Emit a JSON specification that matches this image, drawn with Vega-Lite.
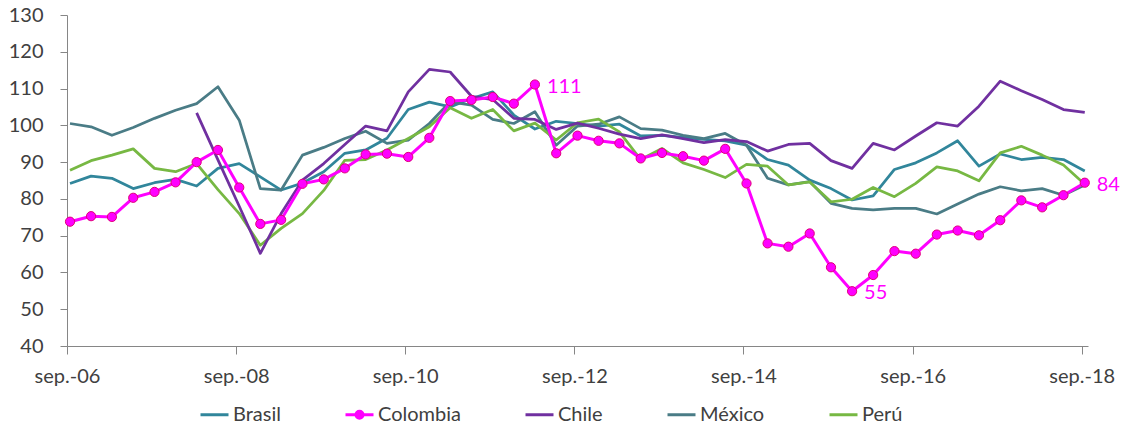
{
  "$schema": "https://vega.github.io/schema/vega-lite/v6.json",
  "width": 1021,
  "height": 331,
  "autosize": {"type": "none"},
  "padding": {"left": 67, "top": 15, "right": 39, "bottom": 82},
  "background": "white",
  "config": {
    "view": {"stroke": null},
    "font": "Lato",
    "axis": {
      "labelFont": "Lato",
      "labelFontSize": 20,
      "labelColor": "#404040",
      "domainColor": "#868686",
      "tickColor": "#868686",
      "domainWidth": 1,
      "tickWidth": 1,
      "grid": false,
      "title": null
    },
    "axisY": {"tickSize": 7, "labelPadding": 17, "labelOverlap": false}
  },
  "data": {
    "values": [
      {"fecha": "2006-09-14", "Brasil": 84.2, "Colombia": 73.8, "Chile": null, "México": 100.5, "Perú": 87.8},
      {"fecha": "2006-12-14", "Brasil": 86.2, "Colombia": 75.3, "Chile": null, "México": 99.6, "Perú": 90.4},
      {"fecha": "2007-03-14", "Brasil": 85.6, "Colombia": 75.1, "Chile": null, "México": 97.3, "Perú": 91.9},
      {"fecha": "2007-06-14", "Brasil": 82.8, "Colombia": 80.3, "Chile": null, "México": 99.4, "Perú": 93.6},
      {"fecha": "2007-09-14", "Brasil": 84.4, "Colombia": 81.9, "Chile": null, "México": 101.9, "Perú": 88.3},
      {"fecha": "2007-12-14", "Brasil": 85.3, "Colombia": 84.5, "Chile": null, "México": 104.1, "Perú": 87.4},
      {"fecha": "2008-03-14", "Brasil": 83.5, "Colombia": 90.0, "Chile": 103.4, "México": 105.9, "Perú": 89.6},
      {"fecha": "2008-06-14", "Brasil": 88.3, "Colombia": 93.3, "Chile": 90.6, "México": 110.5, "Perú": 82.5},
      {"fecha": "2008-09-14", "Brasil": 89.6, "Colombia": 83.1, "Chile": 78.0, "México": 101.4, "Perú": 76.0},
      {"fecha": "2008-12-14", "Brasil": 86.0, "Colombia": 73.2, "Chile": 65.2, "México": 82.8, "Perú": 67.4},
      {"fecha": "2009-03-14", "Brasil": 82.4, "Colombia": 74.3, "Chile": 76.0, "México": 82.4, "Perú": 72.0},
      {"fecha": "2009-06-14", "Brasil": 84.3, "Colombia": 84.1, "Chile": 85.1, "México": 91.9, "Perú": 76.0},
      {"fecha": "2009-09-14", "Brasil": 87.4, "Colombia": 85.3, "Chile": 89.6, "México": 94.0, "Perú": 82.3},
      {"fecha": "2009-12-14", "Brasil": 92.4, "Colombia": 88.3, "Chile": 94.8, "México": 96.4, "Perú": 90.5},
      {"fecha": "2010-03-14", "Brasil": 93.3, "Colombia": 92.1, "Chile": 99.8, "México": 98.4, "Perú": 90.7},
      {"fecha": "2010-06-14", "Brasil": 96.5, "Colombia": 92.3, "Chile": 98.5, "México": 95.1, "Perú": 93.3},
      {"fecha": "2010-09-14", "Brasil": 104.3, "Colombia": 91.4, "Chile": 109.1, "México": 96.0, "Perú": 96.4},
      {"fecha": "2010-12-14", "Brasil": 106.3, "Colombia": 96.6, "Chile": 115.2, "México": 100.5, "Perú": 99.6},
      {"fecha": "2011-03-14", "Brasil": 105.0, "Colombia": 106.6, "Chile": 114.5, "México": 106.4, "Perú": 104.8},
      {"fecha": "2011-06-14", "Brasil": 107.3, "Colombia": 106.9, "Chile": 107.9, "México": 105.5, "Perú": 101.9},
      {"fecha": "2011-09-14", "Brasil": 109.1, "Colombia": 107.7, "Chile": 107.0, "México": 101.6, "Perú": 104.3},
      {"fecha": "2011-12-14", "Brasil": 102.8, "Colombia": 105.9, "Chile": 101.9, "México": 100.5, "Perú": 98.5},
      {"fecha": "2012-03-14", "Brasil": 99.0, "Colombia": 111.1, "Chile": 101.6, "México": 103.7, "Perú": 100.6, "etiqueta": true},
      {"fecha": "2012-06-14", "Brasil": 101.1, "Colombia": 92.4, "Chile": 98.9, "México": 94.6, "Perú": 96.0},
      {"fecha": "2012-09-14", "Brasil": 100.5, "Colombia": 97.2, "Chile": 100.6, "México": 99.8, "Perú": 100.7},
      {"fecha": "2012-12-14", "Brasil": 99.8, "Colombia": 95.8, "Chile": 99.2, "México": 100.3, "Perú": 101.7},
      {"fecha": "2013-03-14", "Brasil": 100.3, "Colombia": 95.1, "Chile": 97.6, "México": 102.3, "Perú": 98.2},
      {"fecha": "2013-06-14", "Brasil": 97.1, "Colombia": 91.0, "Chile": 96.4, "México": 99.1, "Perú": 90.7},
      {"fecha": "2013-09-14", "Brasil": 97.3, "Colombia": 92.5, "Chile": 97.4, "México": 98.7, "Perú": 93.7},
      {"fecha": "2013-12-14", "Brasil": 96.7, "Colombia": 91.6, "Chile": 96.4, "México": 97.3, "Perú": 89.8},
      {"fecha": "2014-03-14", "Brasil": 96.2, "Colombia": 90.4, "Chile": 95.3, "México": 96.4, "Perú": 88.0},
      {"fecha": "2014-06-14", "Brasil": 95.8, "Colombia": 93.6, "Chile": 96.1, "México": 97.8, "Perú": 85.8},
      {"fecha": "2014-09-14", "Brasil": 94.6, "Colombia": 84.2, "Chile": 95.6, "México": 94.6, "Perú": 89.4},
      {"fecha": "2014-12-14", "Brasil": 90.7, "Colombia": 67.9, "Chile": 93.0, "México": 85.6, "Perú": 88.9},
      {"fecha": "2015-03-14", "Brasil": 89.2, "Colombia": 67.0, "Chile": 94.8, "México": 83.8, "Perú": 83.8},
      {"fecha": "2015-06-14", "Brasil": 85.1, "Colombia": 70.6, "Chile": 95.1, "México": 84.7, "Perú": 84.6},
      {"fecha": "2015-09-14", "Brasil": 82.8, "Colombia": 61.4, "Chile": 90.4, "México": 78.8, "Perú": 79.2},
      {"fecha": "2015-12-14", "Brasil": 79.7, "Colombia": 54.9, "Chile": 88.3, "México": 77.4, "Perú": 79.9, "etiqueta": true},
      {"fecha": "2016-03-14", "Brasil": 80.8, "Colombia": 59.3, "Chile": 95.1, "México": 77.0, "Perú": 83.1},
      {"fecha": "2016-06-14", "Brasil": 88.0, "Colombia": 65.8, "Chile": 93.3, "México": 77.4, "Perú": 80.6},
      {"fecha": "2016-09-14", "Brasil": 89.8, "Colombia": 65.1, "Chile": 97.1, "México": 77.4, "Perú": 84.2},
      {"fecha": "2016-12-14", "Brasil": 92.5, "Colombia": 70.3, "Chile": 100.7, "México": 75.9, "Perú": 88.7},
      {"fecha": "2017-03-14", "Brasil": 95.8, "Colombia": 71.4, "Chile": 99.8, "México": 78.6, "Perú": 87.6},
      {"fecha": "2017-06-14", "Brasil": 88.9, "Colombia": 70.1, "Chile": 105.2, "México": 81.3, "Perú": 84.9},
      {"fecha": "2017-09-14", "Brasil": 92.2, "Colombia": 74.2, "Chile": 112.0, "México": 83.3, "Perú": 92.5},
      {"fecha": "2017-12-14", "Brasil": 90.7, "Colombia": 79.6, "Chile": 109.4, "México": 82.2, "Perú": 94.3},
      {"fecha": "2018-03-14", "Brasil": 91.3, "Colombia": 77.7, "Chile": 107.0, "México": 82.8, "Perú": 91.9},
      {"fecha": "2018-06-14", "Brasil": 90.7, "Colombia": 81.0, "Chile": 104.3, "México": 81.0, "Perú": 89.2},
      {"fecha": "2018-09-14", "Brasil": 87.6, "Colombia": 84.4, "Chile": 103.5, "México": 83.8, "Perú": 84.0, "etiqueta": true}
    ]
  },
  "encoding": {
    "x": {
      "field": "fecha",
      "type": "temporal",
      "scale": {"domain": [{"year": 2006, "month": 9, "date": 1}, {"year": 2018, "month": 9, "date": 28}]},
      "axis": {
        "values": [
          {"year": 2006, "month": 9, "date": 1},
          {"year": 2008, "month": 9, "date": 1},
          {"year": 2010, "month": 9, "date": 1},
          {"year": 2012, "month": 9, "date": 1},
          {"year": 2014, "month": 9, "date": 1},
          {"year": 2016, "month": 9, "date": 1},
          {"year": 2018, "month": 9, "date": 1}
        ],
        "labelExpr": "'sep.-' + timeFormat(datum.value, '%y')",
        "tickSize": 8,
        "labelPadding": 12,
        "labelFlush": false,
        "labelOverlap": false
      }
    }
  },
  "layer": [
    {
      "transform": [
        {"fold": ["Brasil", "Chile", "México", "Perú"], "as": ["pais", "valor"]},
        {"filter": "datum.valor != null"}
      ],
      "mark": {"type": "line", "strokeWidth": 2.75, "strokeJoin": "round"},
      "encoding": {
        "y": {
          "field": "valor",
          "type": "quantitative",
          "scale": {"domain": [40, 130], "nice": false, "zero": false},
          "axis": {"values": [40, 50, 60, 70, 80, 90, 100, 110, 120, 130], "tickSize": 7, "labelPadding": 17, "labelOverlap": false}
        },
        "color": {
          "field": "pais",
          "type": "nominal",
          "scale": {
            "domain": ["Brasil", "Colombia", "Chile", "México", "Perú"],
            "range": ["#31869B", "#FF00FF", "#7030A0", "#4A7C86", "#77B843"]
          },
          "legend": {
            "title": null,
            "orient": "none",
            "legendX": 132,
            "legendY": 384,
            "direction": "horizontal",
            "columns": 5,
            "symbolType": "stroke",
            "symbolSize": 784,
            "symbolStrokeWidth": 3,
            "labelFont": "Lato",
            "labelFontSize": 20,
            "labelColor": "#404040",
            "labelOffset": 3,
            "columnPadding": 58,
            "encode": {
              "symbols": {
                "update": {
                  "shape": {"signal": "datum.value === 'Colombia' ? 'M-1,0L1,0M-0.25,0A0.25,0.25,0,1,1,0.25,0A0.25,0.25,0,1,1,-0.25,0Z' : 'stroke'"},
                  "fill": {"signal": "datum.value === 'Colombia' ? '#FF00FF' : 'transparent'"}
                }
              }
            }
          }
        }
      }
    },
    {
      "transform": [
        {"fold": ["Colombia"], "as": ["pais", "valor"]}
      ],
      "mark": {"type": "line", "strokeWidth": 3, "strokeJoin": "round"},
      "encoding": {
        "y": {
          "field": "valor",
          "type": "quantitative",
          "axis": {"values": [40, 50, 60, 70, 80, 90, 100, 110, 120, 130], "tickSize": 7, "labelPadding": 17, "labelOverlap": false}
        },
        "color": {"field": "pais", "type": "nominal"}
      }
    },
    {
      "mark": {"type": "point", "filled": true, "size": 85, "fill": "#FF00FF", "stroke": "#E0007A", "strokeWidth": 1, "opacity": 1},
      "encoding": {
        "y": {
          "field": "Colombia",
          "type": "quantitative",
          "axis": {"values": [40, 50, 60, 70, 80, 90, 100, 110, 120, 130], "tickSize": 7, "labelPadding": 17, "labelOverlap": false}
        }
      }
    },
    {
      "transform": [{"filter": "datum.etiqueta === true"}],
      "mark": {"type": "text", "align": "left", "baseline": "middle", "dx": 12, "dy": 2, "fontSize": 20, "font": "Lato", "color": "#FF00FF"},
      "encoding": {
        "y": {
          "field": "Colombia",
          "type": "quantitative",
          "axis": {"values": [40, 50, 60, 70, 80, 90, 100, 110, 120, 130], "tickSize": 7, "labelPadding": 17, "labelOverlap": false}
        },
        "text": {"field": "Colombia", "type": "quantitative", "format": ".0f"}
      }
    }
  ]
}
